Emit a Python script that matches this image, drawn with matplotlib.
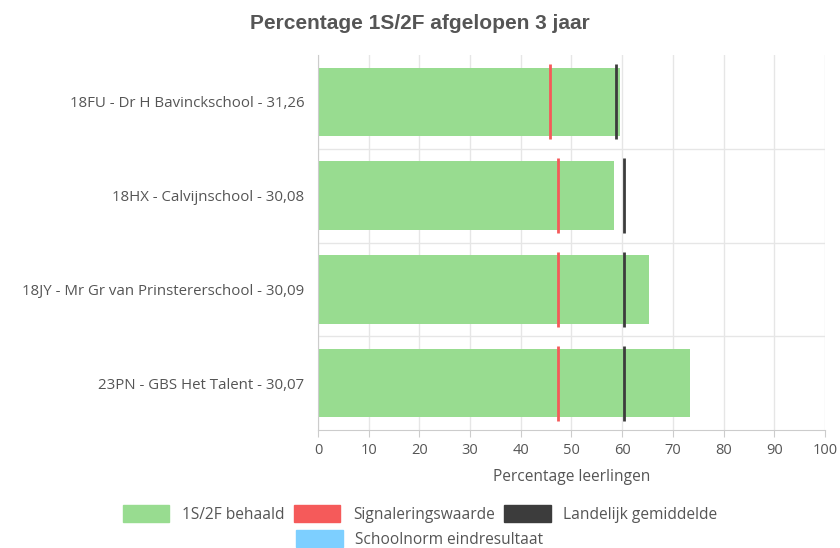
import matplotlib.pyplot as plt
from matplotlib.patches import Patch

# data
scholen = ["18FU - Dr H Bavinckschool - 31,26",
           "18HX - Calvijnschool - 30,08",
           "18JY - Mr Gr van Prinstererschool - 30,09",
           "23PN - GBS Het Talent - 30,07"]
behaald = [59.6, 58.4, 65.3, 73.4]
signalering = [45.8, 47.3, 47.3, 47.3]
landelijk = [58.8, 60.4, 60.4, 60.4]
x_ticks = [0, 10, 20, 30, 40, 50, 60, 70, 80, 90, 100]

groen = "#98dc90"
rood = "#f55a5a"
zwart = "#3c3c3c"
blauw = "#7dcfff"
tekst = "#555555"

plt.rcParams["font.family"] = ["Open Sans", "DejaVu Sans"]

fig = plt.figure(figsize=(8.4, 5.48), dpi=100)
ax = fig.add_axes([0.3786, 0.2153, 0.6034, 0.6843])

y = list(range(len(scholen)))
ax.barh(y, behaald, height=0.73, color=groen, zorder=2)
for i in y:
    ax.plot([signalering[i], signalering[i]], [i - 0.4, i + 0.4], color=rood, lw=2, zorder=3, solid_capstyle="butt")
    ax.plot([landelijk[i], landelijk[i]], [i - 0.4, i + 0.4], color=zwart, lw=2, zorder=3, solid_capstyle="butt")

ax.set_ylim(len(scholen) - 0.5, -0.5)
ax.set_xlim(0, 100)
ax.set_xticks(x_ticks)
ax.set_yticks(y)
ax.set_yticklabels(scholen)
ax.tick_params(axis="y", length=0, pad=10, labelsize=10.8, labelcolor=tekst)
ax.tick_params(axis="x", length=5, color="#cccccc", labelsize=10.5, labelcolor=tekst, pad=4)

ax.grid(axis="x", color="#e6e6e6", lw=1, zorder=0)
for sep in [0.5, 1.5, 2.5]:
    ax.axhline(sep, color="#e6e6e6", lw=1, zorder=0)
for s in ["top", "right"]:
    ax.spines[s].set_visible(False)
ax.spines["left"].set_color("#cccccc")
ax.spines["bottom"].set_color("#cccccc")

ax.set_xlabel("Percentage leerlingen", fontsize=11.2, color=tekst, labelpad=8)

fig.text(0.5, 0.957, "Percentage 1S/2F afgelopen 3 jaar", ha="center", va="center",
         fontsize=15, fontweight="bold", color=tekst, family=["Liberation Sans", "DejaVu Sans"])

items1 = [Patch(color=groen, label="1S/2F behaald"),
          Patch(color=rood, label="Signaleringswaarde"),
          Patch(color=zwart, label="Landelijk gemiddelde")]
items2 = [Patch(color=blauw, label="Schoolnorm eindresultaat")]
leg1 = fig.legend(handles=items1, ncol=3, loc="center", bbox_to_anchor=(0.5, 0.062),
                  frameon=False, fontsize=11.2, handlelength=3.0, handleheight=1.3,
                  columnspacing=0.6, handletextpad=0.8, labelcolor=tekst)
fig.legend(handles=items2, ncol=1, loc="center", bbox_to_anchor=(0.5, 0.016),
           frameon=False, fontsize=11.2, handlelength=3.0, handleheight=1.3,
           handletextpad=0.8, labelcolor=tekst)

fig.savefig("out.png", dpi=100)
